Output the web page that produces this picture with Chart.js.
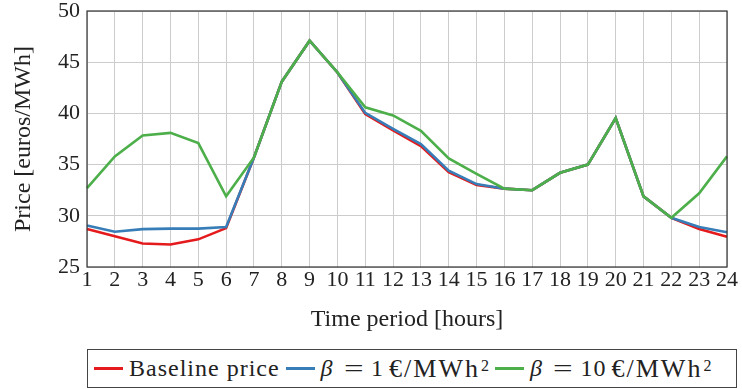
<!DOCTYPE html>
<html>
<head>
  <title>Price per time period</title>
  <script src="https://cdn.jsdelivr.net/npm/chart.js@4.4.0/dist/chart.umd.min.js"></script>
  <style>
    body { margin: 0; background: #fff; font-family: 'Liberation Serif', 'DejaVu Serif', serif; }
    #wrap { position: relative; width: 742px; height: 389px; }
    #legend {
      position: absolute; left: 87px; top: 349px; width: 648px; height: 37px;
      border: 1px solid #444; display: flex; align-items: center;
      font-size: 24px; color: #222; letter-spacing: 1px; white-space: nowrap;
    }
    .item { display: flex; align-items: center; }
    .swatch { width: 29px; height: 3px; margin: 0 6px 0 6px; }
    .beta { margin-right: 14px; letter-spacing: 0; }
    .eq { display: inline-block; transform: scaleX(1.45); margin-right: 11px; letter-spacing: 0; }
    .num { margin-right: 5px; }
    .unit { font-size: 26px; letter-spacing: 2px; }
    sup { font-size: 16px; position: relative; top: -3px; vertical-align: top; letter-spacing: 0; margin-left: 1px; }
  </style>
</head>
<body>
<div id="wrap">
  <canvas id="myChart" width="742" height="340"></canvas>
  <div id="legend">
    <span class="item"><span class="swatch" style="background:#e41a1c"></span>Baseline price</span>
    <span class="item"><span class="swatch" style="background:#377eb8"></span><i class="beta">β</i><span class="eq">=</span><span class="num">1</span><span class="unit">€/MWh</span><sup>2</sup></span>
    <span class="item"><span class="swatch" style="background:#4daf4a"></span><i class="beta">β</i><span class="eq">=</span><span class="num">10</span><span class="unit">€/MWh</span><sup>2</sup></span>
  </div>
</div>

<script>
const hours = ['1','2','3','4','5','6','7','8','9','10','11','12','13','14','15','16','17','18','19','20','21','22','23','24'];
const baseline = [28.7, 28.0, 27.3, 27.2, 27.7, 28.8, 35.7, 43.1, 47.1, 44.0, 39.95, 38.35, 36.8, 34.25, 33.0, 32.65, 32.5, 34.2, 35.0, 39.55, 31.9, 29.8, 28.7, 27.95];
const beta1 = [29.05, 28.45, 28.7, 28.75, 28.75, 28.9, 35.7, 43.1, 47.1, 44.0, 40.05, 38.5, 37.0, 34.4, 33.1, 32.65, 32.5, 34.2, 35.0, 39.55, 31.9, 29.8, 28.9, 28.4];
const beta10 = [32.7, 35.8, 37.85, 38.1, 37.1, 31.9, 35.7, 43.1, 47.1, 44.0, 40.6, 39.8, 38.3, 35.6, 34.1, 32.65, 32.5, 34.2, 35.0, 39.55, 31.9, 29.8, 32.2, 35.8];
const yTicks = [25, 30, 35, 40, 45, 50];

const serif = "'Liberation Serif', 'DejaVu Serif', serif";
const tickFont = { family: serif, size: 22 };
const titleFont = { family: serif, size: 24 };

// computer modern is wider than times, so spread the letters a bit
const spacing = {
  id: 'spacing',
  beforeInit(chart) { chart.ctx.letterSpacing = '1px'; }
};

// frame round the whole plot area, like pgfplots
const frame = {
  id: 'frame',
  afterDraw(chart) {
    const a = chart.chartArea, ctx = chart.ctx;
    ctx.save();
    ctx.strokeStyle = '#333';
    ctx.lineWidth = 1.2;
    ctx.strokeRect(a.left, a.top, a.right - a.left, a.bottom - a.top);
    ctx.restore();
  }
};

function line(data, color) {
  return { data: data, borderColor: color, backgroundColor: color, borderWidth: 2.6, pointRadius: 0, tension: 0 };
}

new Chart('myChart', {
  type: 'line',
  data: {
    labels: hours,
    datasets: [line(beta10, '#4daf4a'), line(beta1, '#377eb8'), line(baseline, '#e41a1c')]
  },
  options: {
    responsive: false,
    animation: false,
    layout: { padding: { top: 11, right: 15, left: 0, bottom: 0 } },
    plugins: { legend: { display: false }, tooltip: { enabled: false } },
    scales: {
      x: {
        offset: false,
        grid: { color: '#cccccc', lineWidth: 1, drawTicks: false },
        border: { display: false },
        ticks: { color: '#222', font: tickFont, maxRotation: 0, autoSkip: false, padding: 0 },
        title: { display: true, text: 'Time period [hours]', color: '#222', font: titleFont, padding: { top: 4, bottom: 6 } },
        afterFit(scale) {
          scale.height = 73;
          scale.paddingLeft = 0;
          scale.paddingRight = 0;
        }
      },
      y: {
        min: 25, max: 50,
        afterBuildTicks(scale) { scale.ticks = yTicks.map(v => ({ value: v })); },
        grid: { color: '#cccccc', lineWidth: 1, drawTicks: false },
        border: { display: false },
        ticks: { color: '#222', font: tickFont, padding: 7 },
        title: { display: true, text: 'Price [euros/MWh]', color: '#222', font: titleFont, padding: { top: 9, bottom: 4 } },
        afterFit(scale) {
          scale.width = 87;
          scale.paddingTop = 0;
          scale.paddingBottom = 0;
        }
      }
    }
  },
  plugins: [spacing, frame]
});
</script>
</body>
</html>
